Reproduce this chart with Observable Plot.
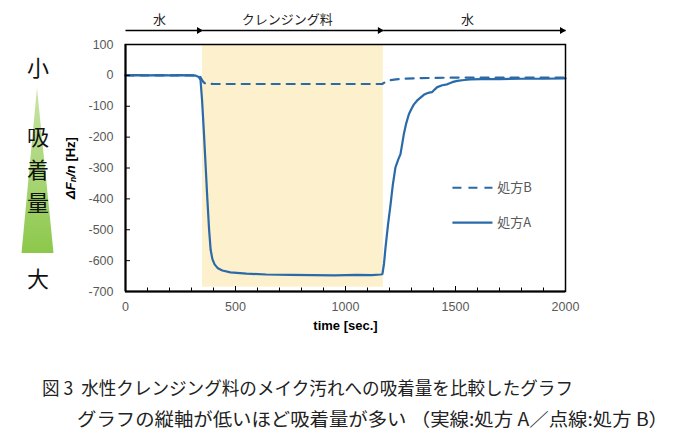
<!DOCTYPE html>
<html>
<head>
<meta charset="utf-8">
<script src="https://cdn.jsdelivr.net/npm/d3@7"></script>
<script src="https://cdn.jsdelivr.net/npm/@observablehq/plot@0.6"></script>
<style>
  body { margin: 0; background: #fff; }
  #wrap { position: relative; width: 675px; height: 444px; overflow: hidden; background: #fff; }
  #chart { position: absolute; left: 0; top: 0; }
  #side { position: absolute; left: 0; top: 0; }
  #cap { position: absolute; left: 0; top: 350px; }
  #cap text { white-space: pre; }
</style>
</head>
<body>
<div id="wrap">
  <div id="chart"></div>
  <svg id="side" width="80" height="300"></svg>
  <svg id="cap" width="675" height="94"></svg>
</div>
<script>
// ---- data ----
const timeA = [0, 50, 100, 150, 200, 250, 300, 320, 333, 341, 348, 356, 364, 372, 380, 387, 395, 405, 420, 440, 477, 550, 640, 750, 850, 950, 1050, 1120, 1160, 1168, 1175, 1182, 1193, 1205, 1215, 1227, 1240, 1250, 1265, 1275, 1288, 1300, 1311, 1325, 1341, 1356, 1371, 1385, 1394, 1405, 1417, 1440, 1462, 1485, 1508, 1540, 1568, 1620, 1700, 1800, 1900, 2000];
const valueA = [0, 1, 0, 1, 0, 1, 0, -1, -5, -15, -80, -180, -290, -400, -500, -565, -595, -612, -625, -632, -638, -642, -645, -646, -647, -648, -646, -647, -645, -643, -610, -557, -485, -417, -355, -298, -272, -255, -191, -158, -126, -108, -94, -82, -72, -63, -58, -55, -54, -46, -38, -32, -29, -22, -18, -15, -13, -12, -12, -11, -11, -10];
const timeB = [0, 100, 200, 300, 330, 341, 348, 356, 364, 400, 500, 600, 700, 800, 900, 1000, 1100, 1167, 1180, 1197, 1230, 1265, 1340, 1417, 1500, 1600, 1700, 1800, 1900, 2000];
const valueB = [0, 0, 0, 0, -1, -6, -16, -23, -27, -28, -28, -28, -28, -28, -28, -28, -28, -28, -22, -16, -13, -11, -9, -8, -7, -7, -7, -7, -7, -7];

const phaseLabels = ["水", "クレンジング料", "水"];
const phaseStart = [0, 350, 1172];
const phaseEnd = [350, 1172, 2000];
const phaseLabelTime = [155, 735, 1555];
const shadedPhase = 1;

const xTicks = [0, 500, 1000, 1500, 2000];
const xMinorTicks = [100, 200, 300, 400, 600, 700, 800, 900, 1100, 1200, 1300, 1400, 1600, 1700, 1800, 1900];
const yTicks = [100, 0, -100, -200, -300, -400, -500, -600, -700];

const legendNames = ["処方B", "処方A"];   // dashed, solid
const sideLabels = ["小", "吸", "着", "量", "大"];
const xLabel = "time [sec.]";
const captionLines = [
  "図\u00a03\u00a0\u00a0水性クレンジング料のメイク汚れへの吸着量を比較したグラフ",
  "グラフの縦軸が低いほど吸着量が多い\u00a0（実線:処方\u00a0A／点線:処方\u00a0B）"
];

// ---- build ----
const blue = "#2a6aa8";
const A = timeA.map((t, i) => ({t, v: valueA[i]}));
const B = timeB.map((t, i) => ({t, v: valueB[i]}));
const phases = phaseLabels.map((label, i) => ({label, start: phaseStart[i], end: phaseEnd[i], lt: phaseLabelTime[i]}));
const yTop = yTicks[0], yBottom = yTicks[yTicks.length - 1];

// legend layout (data coordinates inside the frame)
const legend = legendNames.map((name, i) => ({name, y: i === 0 ? -364 : -477}));
const legX1 = 1486, legX2 = 1668, legText = 1690;

const chart = Plot.plot({
  width: 675,
  height: 350,
  marginLeft: 125,
  marginRight: 110,
  marginTop: 44,
  marginBottom: 59,
  x: {domain: [0, 2000]},
  y: {domain: [yBottom, yTop]},
  style: {fontFamily: "'Liberation Sans', Arial, sans-serif", fontSize: "12.5px", color: "#595959", background: "white", overflow: "visible"},
  marks: [
    Plot.rect([phases[shadedPhase]], {x1: "start", x2: "end", y1: -686, y2: yTop, fill: "#fdf0cd"}),
    Plot.line(B, {x: "t", y: "v", stroke: blue, strokeWidth: 2.2, strokeDasharray: "8,7"}),
    Plot.line(A, {x: "t", y: "v", stroke: blue, strokeWidth: 2.2}),
    Plot.frame({stroke: "black", strokeWidth: 1.5}),
    Plot.ruleX([0], {stroke: "black", strokeWidth: 2}),
    Plot.ruleY([yBottom], {stroke: "black", strokeWidth: 2}),
    Plot.axisY(yTicks, {anchor: "left", tickSize: -5, tickPadding: 17, stroke: "black", tickFormat: d => String(d)}),
    Plot.axisX(xTicks, {anchor: "bottom", tickSize: -5, tickPadding: 16, stroke: "black", tickFormat: d => String(d)}),
    Plot.axisX(xMinorTicks, {anchor: "bottom", tickSize: -3.5, stroke: "black", text: null, label: null}),
    Plot.text([xLabel], {frameAnchor: "bottom", dy: 38, fontWeight: "bold", fontSize: 13, fill: "black"}),
    // phase arrows above the frame
    Plot.link(phases, {x1: "start", x2: "end", y1: yTop, y2: yTop, dy: -14, stroke: "black", strokeWidth: 1.5}),
    Plot.dot(phases, {x: "end", y: yTop, dy: -14, dx: -3.5, symbol: "triangle2", rotate: 90, r: 3.3, fill: "black", stroke: "none"}),
    Plot.text(phases, {x: "lt", y: yTop, dy: -25, text: "label", fontSize: 13, fill: "#222", fontFamily: "'Noto Sans CJK JP', sans-serif"}),
    // legend
    Plot.link([legend[0]], {x1: legX1, x2: legX2, y1: "y", y2: "y", stroke: blue, strokeWidth: 2.2, strokeDasharray: "9,7"}),
    Plot.link([legend[1]], {x1: legX1, x2: legX2, y1: "y", y2: "y", stroke: blue, strokeWidth: 2.2}),
    Plot.text(legend, {x: legText, y: "y", text: "name", textAnchor: "start", fontSize: 13, fill: "#595959", fontFamily: "'Noto Sans CJK JP', sans-serif"})
  ]
});
document.getElementById("chart").appendChild(chart);

// y-axis label with subscript
const svg = d3.select(chart);
const yl = svg.append("text")
  .attr("transform", "translate(70,168) rotate(-90)")
  .attr("text-anchor", "middle")
  .attr("dominant-baseline", "central")
  .attr("font-family", "'Liberation Sans', Arial, sans-serif")
  .attr("font-size", 13)
  .attr("font-weight", "bold")
  .attr("fill", "black");
yl.append("tspan").attr("font-style", "italic").text("ΔF");
yl.append("tspan").attr("font-style", "italic").attr("font-size", 9).attr("dy", 3).text("n");
yl.append("tspan").attr("font-style", "italic").attr("dy", -3).text("/n");
yl.append("tspan").text(" [Hz]");

// left-side indicator
const side = d3.select("#side");
const grad = side.append("defs").append("linearGradient").attr("id", "gg").attr("x1", 0).attr("y1", 0).attr("x2", 0).attr("y2", 1);
grad.append("stop").attr("offset", "0%").attr("stop-color", "#c9e4a8");
grad.append("stop").attr("offset", "100%").attr("stop-color", "#8cc84b");
side.append("polygon").attr("points", "37,88 21.5,253 53.5,253").attr("fill", "url(#gg)");
const sideY = [66, 135, 168, 201, 277];
sideLabels.forEach((s, i) => {
  side.append("text").attr("x", 38).attr("y", sideY[i])
    .attr("text-anchor", "middle").attr("dominant-baseline", "central")
    .attr("font-family", "'Noto Sans CJK JP', sans-serif").attr("font-size", 22)
    .attr("fill", "#111").text(s);
});

// caption
const cap = d3.select("#cap");
const capX = [42, 77], capY = [37, 68], capW = [531, 591];
captionLines.forEach((line, i) => {
  cap.append("text").attr("x", capX[i]).attr("y", capY[i])
    .attr("dominant-baseline", "central")
    .attr("font-family", "'Noto Sans CJK JP', sans-serif").attr("font-size", 18)
    .attr("textLength", capW[i]).attr("lengthAdjust", "spacingAndGlyphs")
    .attr("fill", "#222").text(line);
});
</script>
</body>
</html>
